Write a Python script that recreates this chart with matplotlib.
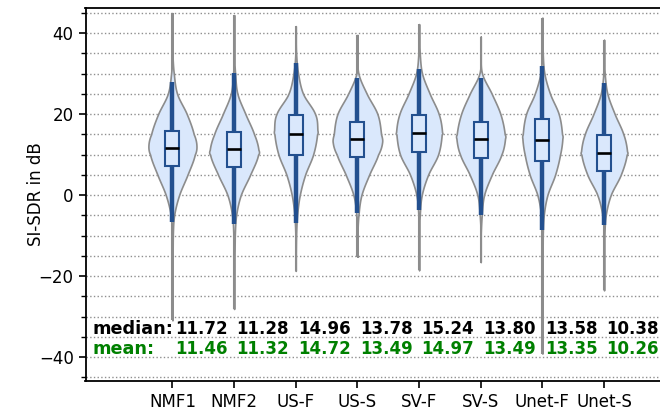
import numpy as np
import matplotlib
matplotlib.use("Agg")
import matplotlib.pyplot as plt
from matplotlib.ticker import MultipleLocator

# ---------------- data ----------------
methods = ["NMF1", "NMF2", "US-F", "US-S", "SV-F", "SV-S", "Unet-F", "Unet-S"]
medians = [11.72, 11.28, 14.96, 13.78, 15.24, 13.80, 13.58, 10.38]
means = [11.46, 11.32, 14.72, 13.49, 14.97, 13.49, 13.35, 10.26]
q1 = [7.3, 6.9, 9.9, 9.3, 10.6, 9.2, 8.5, 5.9]
q3 = [15.9, 15.6, 19.75, 18.0, 19.75, 18.1, 18.7, 14.9]
whisk_lo = [-6.6, -7.2, -7.0, -4.4, -3.7, -4.9, -8.7, -7.4]
whisk_hi = [27.8, 30.2, 32.5, 28.8, 31.0, 28.8, 31.9, 27.7]
data_min = [-30.9, -28.1, -18.7, -15.2, -18.5, -16.5, -39.1, -23.5]
data_max = [44.9, 44.4, 41.7, 39.5, 42.2, 39.1, 43.8, 38.3]

# violin density profile (relative units) at common SI-SDR levels
levels = [-10, -5, 0, 5, 10, 15, 20, 25, 30, 35]
dens_nmf1 = [1, 5, 20, 45, 67, 64, 43, 14, 4, 0]
dens_nmf2 = [2, 6, 20, 48, 72, 60, 34, 10, 3, 0]
dens_usf = [1, 4, 12, 28, 52, 64, 58, 22, 7, 1]
dens_uss = [0, 3, 12, 35, 62, 71, 60, 28, 3, 0]
dens_svf = [0, 2, 8, 27, 57, 68, 59, 32, 9, 2]
dens_svs = [0, 3, 10, 33, 62, 72, 59, 33, 4, 0]
dens_unetf = [1, 4, 15, 38, 53, 59, 49, 23, 6, 1]
dens_unets = [1, 5, 20, 50, 68, 58, 32, 10, 2, 0]
peak_y = [12.3, 11.2, 16.0, 13.0, 15.5, 14.0, 14.0, 10.8]
peak_d = [72, 73, 65, 74, 69, 73, 60, 69]
densities = [dens_nmf1, dens_nmf2, dens_usf, dens_uss,
             dens_svf, dens_svs, dens_unetf, dens_unets]

# ---------------- style ----------------
FILL = "#dae8fc"
EDGE = "#8c8c8c"
BLUE = "#23508f"
DENS_SCALE = 1 / 185.0   # density units -> half width in x units
BOX_HW = 0.114

fig = plt.figure(figsize=(6.6, 4.12), dpi=100)
ax = fig.add_axes([85.5 / 660, 1 - 380.7 / 412, (662 - 85.5) / 660, (380.7 - 8.3) / 412])


def smooth_profile(ys, ws):
    """Catmull-Rom interpolation of a profile for drawing."""
    ys = np.asarray(ys, float)
    ws = np.asarray(ws, float)
    out_y, out_w = [], []
    m = len(ys)
    for i in range(m - 1):
        p0 = ws[i - 1] if i > 0 else ws[i]
        p1, p2 = ws[i], ws[i + 1]
        p3 = ws[i + 2] if i + 2 < m else ws[i + 1]
        t = np.linspace(0, 1, 30, endpoint=False)
        seg = 0.5 * ((2 * p1) + (-p0 + p2) * t + (2 * p0 - 5 * p1 + 4 * p2 - p3) * t ** 2
                     + (-p0 + 3 * p1 - 3 * p2 + p3) * t ** 3)
        out_y.append(ys[i] + (ys[i + 1] - ys[i]) * t)
        out_w.append(seg)
    out_y.append([ys[-1]])
    out_w.append([ws[-1]])
    yy = np.concatenate(out_y)
    ww = np.clip(np.concatenate(out_w), 0, None)
    return yy, ww


for i, name in enumerate(methods):
    x = i
    pts = [(data_min[i], 0.0)]
    for lv, d in zip(levels, densities[i]):
        if data_min[i] < lv < data_max[i]:
            pts.append((lv, float(d)))
    pts.append((peak_y[i], float(peak_d[i])))
    pts.append((data_max[i], 0.0))
    pts.sort()
    yy, ww = smooth_profile([p[0] for p in pts], [p[1] for p in pts])
    hw = ww * DENS_SCALE
    ax.plot([x, x], [data_min[i], data_max[i]], color=EDGE, lw=1.5, zorder=2,
            solid_capstyle="butt")
    ax.fill_betweenx(yy, x - hw, x + hw, facecolor=FILL, edgecolor=EDGE,
                     linewidth=1.2, zorder=3)
    ax.plot([x, x], [whisk_lo[i], whisk_hi[i]], color=BLUE, lw=3.2, zorder=4,
            solid_capstyle="butt")
    ax.add_patch(plt.Rectangle((x - BOX_HW, q1[i]), 2 * BOX_HW, q3[i] - q1[i],
                               facecolor=FILL, edgecolor=BLUE, lw=1.5, zorder=5))
    ax.plot([x - BOX_HW, x + BOX_HW], [medians[i], medians[i]], color="black",
            lw=1.9, zorder=6, solid_capstyle="butt")
    ax.text(x + 0.04, -34.2, f"{medians[i]:.2f}", fontsize=12, fontweight="bold",
            color="black", ha="left", va="baseline", zorder=7)
    ax.text(x + 0.04, -39.3, f"{means[i]:.2f}", fontsize=12, fontweight="bold",
            color="green", ha="left", va="baseline", zorder=7)

ax.text(-1.29, -34.2, "median:", fontsize=12.7, fontweight="bold", color="black",
        ha="left", va="baseline", zorder=7)
ax.text(-1.29, -39.3, "mean:", fontsize=12.7, fontweight="bold", color="green",
        ha="left", va="baseline", zorder=7)

ax.set_xlim(-1.41, 7.94)
ax.set_ylim(-45.8, 46.1)
ax.set_xticks(range(len(methods)))
ax.set_xticklabels(methods, fontsize=12)
ax.yaxis.set_major_locator(MultipleLocator(20))
ax.yaxis.set_minor_locator(MultipleLocator(5))
ax.tick_params(axis="y", which="major", labelsize=12, length=5, width=1.2)
ax.tick_params(axis="y", which="minor", length=3.5, width=1.0)
ax.tick_params(axis="x", which="major", length=5, width=1.2)
ax.grid(True, axis="y", which="both", linestyle=":", color="#8f8f8f", linewidth=1.0, zorder=0)
ax.set_axisbelow(True)
ax.set_ylabel("SI-SDR in dB", fontsize=12)
ax.yaxis.set_label_coords(-0.071, 0.5)
for s in ["left", "bottom", "top"]:
    ax.spines[s].set_linewidth(1.3)
ax.spines["right"].set_visible(False)

fig.savefig("out.png", dpi=100)
